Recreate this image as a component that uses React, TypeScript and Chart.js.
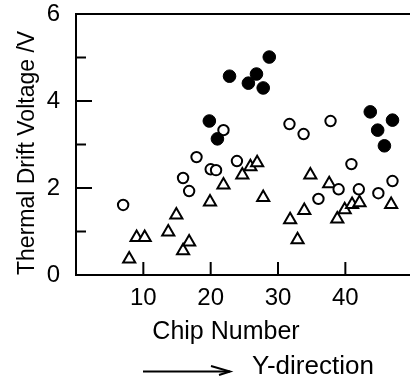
import React, { useEffect, useRef } from "react";
import { Chart, registerables } from "chart.js";

Chart.register(...registerables);

const FONT = "'Liberation Sans', Arial, sans-serif";

const xTickValues = [10, 20, 30, 40];
const yMajorTicks = [2, 4];
const yMinorTicks = [1, 3, 5];

const xTitle = "Chip Number";
const yTitle = "Thermal Drift Voltage /V";
const directionLabel = "Y-direction";

// filled circles
const filledX = [19.8, 21.0, 22.8, 25.6, 26.8, 27.8, 28.7, 43.7, 47.0, 44.8, 45.8];
const filledY = [3.54, 3.13, 4.57, 4.41, 4.62, 4.30, 5.01, 3.75, 3.56, 3.33, 2.97];

// open circles
const openX = [7.0, 15.9, 16.8, 17.9, 20.0, 20.8, 21.9, 23.9, 31.7, 33.8, 36.0, 37.8, 39.0, 40.9, 42.0, 44.9, 47.0];
const openY = [1.61, 2.23, 1.93, 2.71, 2.43, 2.41, 3.33, 2.62, 3.47, 3.24, 1.75, 3.54, 1.97, 2.55, 1.97, 1.88, 2.16];

// open triangles
const triX = [7.9, 9.0, 10.2, 13.7, 14.9, 15.9, 16.8, 19.9, 21.9, 24.7, 25.9, 26.9, 27.8, 31.8, 32.9, 33.9, 34.8, 37.6, 38.8, 39.9, 41.0, 42.1, 46.8];
const triY = [0.37, 0.86, 0.86, 0.99, 1.38, 0.56, 0.76, 1.68, 2.07, 2.30, 2.49, 2.58, 1.78, 1.27, 0.81, 1.48, 2.30, 2.10, 1.29, 1.50, 1.62, 1.66, 1.62];

const toPoints = (xs: number[], ys: number[]) => xs.map((x, i) => ({ x, y: ys[i] }));

const axisDecor = {
  id: "axisDecor",
  afterDraw(chart: any) {
    const { ctx, chartArea: a, scales } = chart;
    const xs = scales.x;
    const ys = scales.y;
    ctx.save();
    ctx.strokeStyle = "#000";
    ctx.fillStyle = "#000";
    ctx.lineWidth = 2;
    // top frame line
    ctx.beginPath();
    ctx.moveTo(a.left - 1, a.top);
    ctx.lineTo(chart.width, a.top);
    ctx.stroke();
    // inward y ticks
    for (const v of yMajorTicks) {
      const p = ys.getPixelForValue(v);
      ctx.beginPath();
      ctx.moveTo(a.left, p);
      ctx.lineTo(a.left + 16, p);
      ctx.stroke();
    }
    for (const v of yMinorTicks) {
      const p = ys.getPixelForValue(v);
      ctx.beginPath();
      ctx.moveTo(a.left, p);
      ctx.lineTo(a.left + 10, p);
      ctx.stroke();
    }
    // inward x ticks
    for (const v of xTickValues) {
      const p = xs.getPixelForValue(v);
      ctx.beginPath();
      ctx.moveTo(p, a.bottom);
      ctx.lineTo(p, a.bottom - 13);
      ctx.stroke();
    }
    // x title
    ctx.font = `25px ${FONT}`;
    ctx.textAlign = "center";
    ctx.textBaseline = "alphabetic";
    ctx.fillText(xTitle, 226, 339);
    // direction arrow and label
    ctx.font = `26px ${FONT}`;
    ctx.textAlign = "left";
    ctx.fillText(directionLabel, 252, 374);
    ctx.beginPath();
    ctx.moveTo(143, 371.5);
    ctx.lineTo(230, 371.5);
    ctx.stroke();
    ctx.beginPath();
    ctx.moveTo(211, 366);
    ctx.lineTo(230, 371.5);
    ctx.lineTo(219, 375);
    ctx.stroke();
    ctx.restore();
  },
};

export default function App() {
  const ref = useRef<HTMLCanvasElement | null>(null);

  useEffect(() => {
    document.body.style.margin = "0";
    const canvas = ref.current;
    if (!canvas) return;
    const chart = new Chart(canvas, {
      type: "scatter",
      data: {
        datasets: [
          {
            label: "filled",
            data: toPoints(filledX, filledY),
            pointStyle: "circle",
            pointRadius: 6.3,
            backgroundColor: "#000",
            borderColor: "#000",
            borderWidth: 1,
          },
          {
            label: "open",
            data: toPoints(openX, openY),
            pointStyle: "circle",
            pointRadius: 5.2,
            backgroundColor: "#fff",
            borderColor: "#000",
            borderWidth: 2,
          },
          {
            label: "triangle",
            data: toPoints(triX, triY),
            pointStyle: "triangle",
            pointRadius: 7,
            backgroundColor: "#fff",
            borderColor: "#000",
            borderWidth: 2,
          },
        ],
      },
      options: {
        animation: false,
        responsive: false,
        devicePixelRatio: 1,
        layout: { autoPadding: false, padding: { top: 14, right: 0, left: 0, bottom: 0 } },
        plugins: {
          legend: { display: false },
          tooltip: { enabled: false },
        },
        scales: {
          x: {
            type: "linear",
            min: 0,
            max: 49.6,
            grid: { display: false, drawTicks: false },
            border: { display: true, color: "#000", width: 2 },
            ticks: {
              color: "#000",
              font: { family: FONT, size: 24, lineHeight: 1 },
              padding: 11,
            },
            afterBuildTicks: (scale: any) => {
              scale.ticks = xTickValues.map((v) => ({ value: v }));
            },
            afterFit: (scale: any) => {
              scale.height = 101;
              scale.paddingLeft = 0;
              scale.paddingRight = 0;
            },
          },
          y: {
            type: "linear",
            min: 0,
            max: 6,
            grid: { display: false, drawTicks: false },
            border: { display: true, color: "#000", width: 2 },
            ticks: {
              stepSize: 2,
              color: "#000",
              font: { family: FONT, size: 24, lineHeight: 1 },
              padding: 16,
            },
            title: {
              display: true,
              text: yTitle,
              color: "#000",
              align: "start",
              font: { family: FONT, size: 23 },
              padding: { top: 14, bottom: 0 },
            },
            afterFit: (scale: any) => {
              scale.width = 76;
              scale.paddingTop = 0;
              scale.paddingBottom = 0;
            },
          },
        },
      },
      plugins: [axisDecor],
    } as any);
    return () => chart.destroy();
  }, []);

  return (
    <div style={{ position: "absolute", left: 0, top: 0, width: 410, height: 376 }}>
      <canvas ref={ref} width={410} height={376} style={{ width: 410, height: 376 }} />
    </div>
  );
}
